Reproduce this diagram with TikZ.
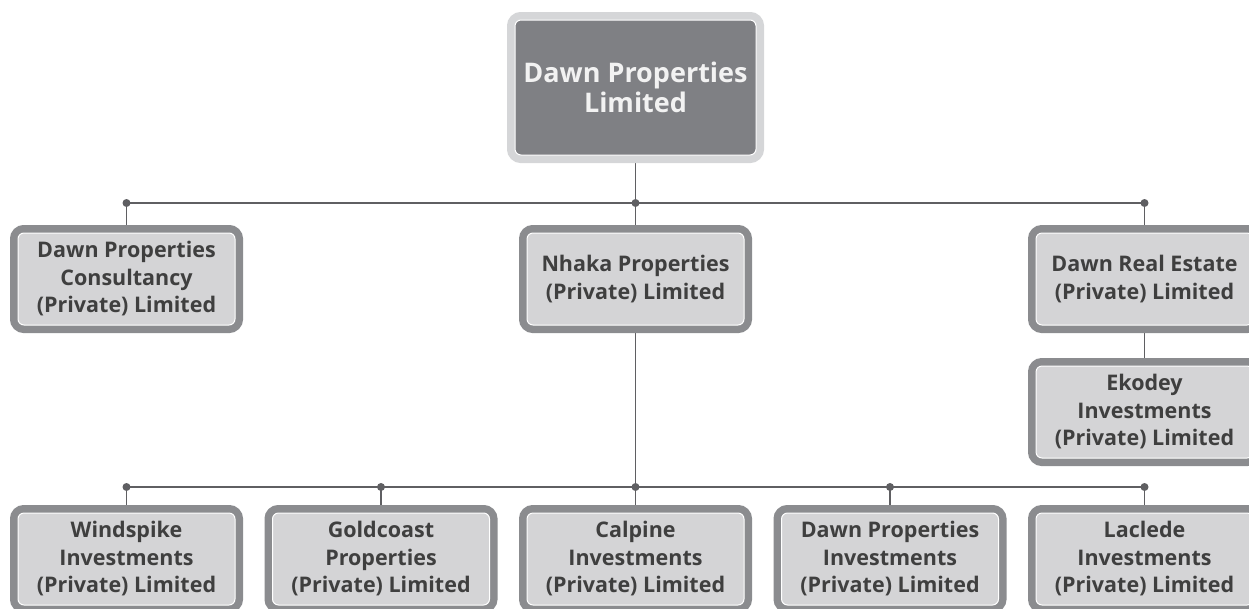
\documentclass[tikz,border=0pt]{standalone}
\usepackage{fontspec}
\setmainfont{Open Sans}
\usetikzlibrary{backgrounds}
\definecolor{bordergray}{HTML}{8B8C8F}
\definecolor{fillgray}{HTML}{D4D4D6}
\definecolor{topfill}{HTML}{7F8084}
\definecolor{topborder}{HTML}{D5D6D8}
\definecolor{txtgray}{HTML}{3F3F3F}
\definecolor{linegray}{HTML}{5F5F62}
\begin{document}
\begin{tikzpicture}[x=1pt,y=-1pt,
  orgbox/.style={draw=white, line width=1pt, fill=fillgray, rounded corners=6pt,
    preaction={draw=bordergray, line width=16pt},
    minimum width=217pt, minimum height=92pt, inner sep=0pt, align=center,
    text=txtgray, font=\fontsize{21.5}{27.5}\selectfont\bfseries},
  topbox/.style={draw=white, line width=1pt, fill=topfill, rounded corners=6pt,
    preaction={draw=topborder, line width=16pt},
    minimum width=241pt, minimum height=135pt, inner sep=0pt, align=center,
    text=white!95!black, font=\fontsize{27}{30}\selectfont\bfseries},
  conn/.style={draw=linegray, line width=1.8pt},
  dot/.style={fill=linegray, circle, inner sep=0pt, minimum size=8pt}]
\useasboundingbox (0,0) rectangle (1249,608);
\node[topbox] (top) at (635.5,87.5) {Dawn Properties\\Limited};
\node[orgbox] (cons) at (126.5,279) {Dawn Properties\\Consultancy\\(Private) Limited};
\node[orgbox] (nhaka) at (635.5,279) {Nhaka Properties\\(Private) Limited};
\node[orgbox] (dre) at (1144.5,279) {Dawn Real Estate\\(Private) Limited};
\node[orgbox] (eko) at (1144.5,412) {Ekodey\\Investments\\(Private) Limited};
\node[orgbox] (win) at (126.5,559) {Windspike\\Investments\\(Private) Limited};
\node[orgbox] (gold) at (381,559) {Goldcoast\\Properties\\(Private) Limited};
\node[orgbox] (calp) at (635.5,559) {Calpine\\Investments\\(Private) Limited};
\node[orgbox] (dpi) at (890,559) {Dawn Properties\\Investments\\(Private) Limited};
\node[orgbox] (lac) at (1144.5,559) {Laclede\\Investments\\(Private) Limited};
\coordinate (j1) at (635.5,203);
\coordinate (j2) at (635.5,487);
\begin{scope}[on background layer]
  \draw[conn] (top.south) -- (nhaka.north);
  \draw[conn] (cons.north |- j1) -- (dre.north |- j1);
  \draw[conn] (cons.north |- j1) -- (cons.north);
  \draw[conn] (dre.north |- j1) -- (dre.north);
  \draw[conn] (dre.south) -- (eko.north);
  \draw[conn] (nhaka.south) -- (calp.north);
  \draw[conn] (win.north |- j2) -- (lac.north |- j2);
  \foreach \n in {win,gold,dpi,lac} \draw[conn] (\n.north |- j2) -- (\n.north);
\end{scope}
\foreach \n in {cons,nhaka,dre} \node[dot] at (\n.north |- j1) {};
\foreach \n in {win,gold,calp,dpi,lac} \node[dot] at (\n.north |- j2) {};
\end{tikzpicture}
\end{document}
